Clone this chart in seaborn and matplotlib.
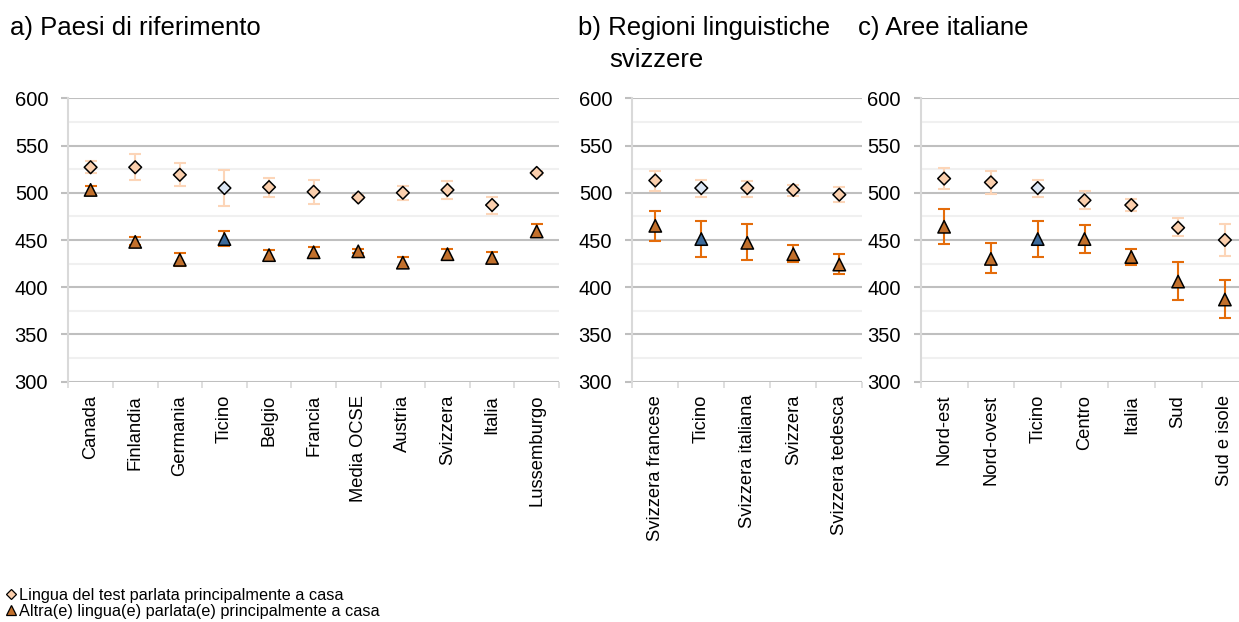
import matplotlib
matplotlib.use("Agg")
import matplotlib.pyplot as plt
from matplotlib.ticker import MultipleLocator, FixedLocator
from matplotlib.lines import Line2D
import numpy as np
import pandas as pd
import seaborn as sns

sns.set_style("white")
plt.rcParams["font.family"] = ["Liberation Sans", "DejaVu Sans"]
plt.rcParams["text.color"] = "black"
plt.rcParams["xtick.labelcolor"] = "black"
plt.rcParams["ytick.labelcolor"] = "black"

# a) Paesi di riferimento
paesi = ["Canada", "Finlandia", "Germania", "Ticino", "Belgio", "Francia",
         "Media OCSE", "Austria", "Svizzera", "Italia", "Lussemburgo"]
paesi_test = [527, 527, 519, 505, 506, 501, 495, 500, 503, 487, 521]
paesi_test_lo = [521, 514, 507, 486, 495, 488, 493, 492, 493, 478, 519]
paesi_test_hi = [534, 541, 531, 524, 516, 513, 498, 507, 512, 495, 523]
paesi_altra = [503, 448, 429, 451, 434, 437, 438, 426, 435, 431, 459]
paesi_altra_lo = [498, 445, 422, 444, 429, 432, 436, 421, 429, 426, 453]
paesi_altra_hi = [507, 453, 436, 459, 439, 443, 440, 432, 441, 437, 467]

# b) Regioni linguistiche svizzere
regioni = ["Svizzera francese", "Ticino", "Svizzera italiana", "Svizzera",
           "Svizzera tedesca"]
regioni_test = [513, 505, 505, 503, 498]
regioni_test_lo = [502, 496, 496, 497, 490]
regioni_test_hi = [523, 513, 512, 508, 506]
regioni_altra = [465, 451, 447, 435, 424]
regioni_altra_lo = [449, 432, 429, 427, 414]
regioni_altra_hi = [481, 470, 467, 445, 435]

# c) Aree italiane
aree = ["Nord-est", "Nord-ovest", "Ticino", "Centro", "Italia", "Sud",
        "Sud e isole"]
aree_test = [515, 511, 505, 492, 487, 463, 450]
aree_test_lo = [504, 499, 496, 483, 481, 454, 433]
aree_test_hi = [526, 523, 513, 502, 493, 473, 467]
aree_altra = [464, 430, 451, 451, 432, 406, 387]
aree_altra_lo = [446, 415, 432, 436, 424, 387, 367]
aree_altra_hi = [483, 447, 470, 466, 440, 427, 408]

C_TEST = "#fbcfad"
C_TEST_TI = "#dbe6f4"
C_ALTRA = "#c2702c"
C_ALTRA_TI = "#3c6a9a"
C_ERR_TEST = "#fcd5b8"
C_ERR_ALTRA = "#e46c0a"

W, H = 1239, 622
fig = plt.figure(figsize=(W / 100, H / 100), dpi=100)

def px_axes(left, right, top=98.3, bottom=381.7):
    return fig.add_axes([left / W, 1 - bottom / H, (right - left) / W, (bottom - top) / H])

def panel(ax, cats, test, tlo, thi, altra, alo, ahi):
    df = pd.DataFrame({"cat": cats, "test": test, "altra": altra,
                       "ticino": [c == "Ticino" for c in cats]})
    x = np.arange(len(cats))
    test = np.array(test); altra = np.array(altra)
    # error bars behind the markers
    ax.errorbar(x, test, yerr=[test - np.array(tlo), np.array(thi) - test],
                fmt="none", ecolor=C_ERR_TEST, elinewidth=1.5, capsize=4.3,
                capthick=1.5, zorder=2)
    ax.errorbar(x, altra, yerr=[altra - np.array(alo), np.array(ahi) - altra],
                fmt="none", ecolor=C_ERR_ALTRA, elinewidth=1.5, capsize=4.3,
                capthick=1.5, zorder=2)
    sns.scatterplot(data=df, x=x, y="test", hue="ticino", marker="D", s=42,
                    palette={False: C_TEST, True: C_TEST_TI}, edgecolor="black",
                    linewidth=1.1, legend=False, ax=ax, zorder=3)
    sns.scatterplot(data=df, x=x, y="altra", hue="ticino", marker="^", s=80,
                    palette={False: C_ALTRA, True: C_ALTRA_TI}, edgecolor="black",
                    linewidth=1.1, legend=False, ax=ax, zorder=3)
    ax.set_xlim(-0.5, len(cats) - 0.5)
    ax.set_ylim(300, 600)
    ax.set_xticks(x)
    ax.set_xticklabels(cats, rotation=90, fontsize=13.2)
    ax.xaxis.set_minor_locator(FixedLocator(np.arange(len(cats) + 1) - 0.5))
    ax.yaxis.set_major_locator(MultipleLocator(50))
    ax.yaxis.set_minor_locator(MultipleLocator(25))
    ax.tick_params(axis="y", which="major", labelsize=14.5, length=5, width=1.5,
                   color="#bfbfbf", pad=9.5, left=True)
    ax.tick_params(axis="y", which="minor", length=0)
    ax.tick_params(axis="x", which="major", length=0, pad=9.5)
    ax.tick_params(axis="x", which="minor", length=4, width=1.2, color="#d9d9d9",
                   bottom=True)
    ax.grid(axis="y", which="major", color="#bfbfbf", linewidth=1.5, zorder=0)
    ax.grid(axis="y", which="minor", color="#f0f0f0", linewidth=1.5, zorder=0)
    ax.set_axisbelow(True)
    for s in ["top", "right", "bottom"]:
        ax.spines[s].set_visible(False)
    ax.spines["left"].set_color("#d9d9d9")
    ax.spines["left"].set_linewidth(1.5)
    ax.set_xlabel("")
    ax.set_ylabel("")

ax_a = px_axes(68.3, 559)
ax_b = px_axes(632.3, 862.3)
ax_c = px_axes(920.7, 1248.3)

panel(ax_a, paesi, paesi_test, paesi_test_lo, paesi_test_hi,
      paesi_altra, paesi_altra_lo, paesi_altra_hi)
panel(ax_b, regioni, regioni_test, regioni_test_lo, regioni_test_hi,
      regioni_altra, regioni_altra_lo, regioni_altra_hi)
panel(ax_c, aree, aree_test, aree_test_lo, aree_test_hi,
      aree_altra, aree_altra_lo, aree_altra_hi)

fig.text(10 / W, 1 - 35 / H, "a) Paesi di riferimento", fontsize=18.5, va="baseline")
fig.text(578 / W, 1 - 35 / H, "b) Regioni linguistiche", fontsize=18.5, va="baseline")
fig.text(609 / W, 1 - 67 / H, "svizzere", fontsize=18.5, va="baseline")
fig.text(858 / W, 1 - 35 / H, "c) Aree italiane", fontsize=18.5, va="baseline")

handles = [
    Line2D([], [], marker="D", linestyle="none", markersize=5.5,
           markerfacecolor=C_TEST, markeredgecolor="black", markeredgewidth=0.9),
    Line2D([], [], marker="^", linestyle="none", markersize=7,
           markerfacecolor=C_ALTRA, markeredgecolor="black", markeredgewidth=0.9),
]
fig.legend(handles, ["Lingua del test parlata principalmente a casa",
                     "Altra(e) lingua(e) parlata(e) principalmente a casa"],
           loc="lower left", bbox_to_anchor=(3 / W, 0.0), frameon=False,
           fontsize=11.7, handlelength=0.6, handletextpad=0.2,
           labelspacing=0.05, borderpad=0.2, borderaxespad=0.0)

fig.savefig("out.png", dpi=100)
